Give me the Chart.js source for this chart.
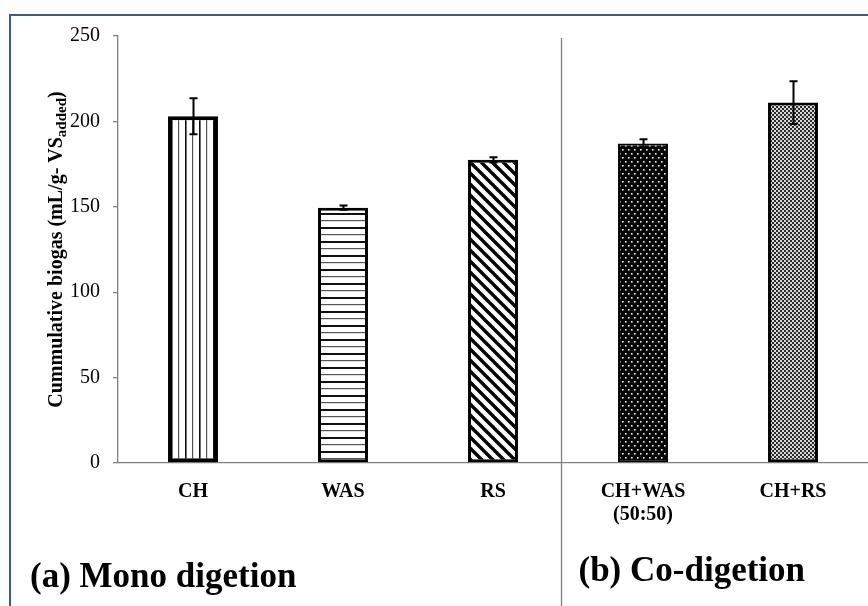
<!DOCTYPE html>
<html>
<head>
<meta charset="utf-8">
<script src="https://cdn.jsdelivr.net/npm/chart.js@4.4.1/dist/chart.umd.min.js"></script>
<style>
  html, body { margin: 0; padding: 0; background: #ffffff; }
  #wrap { width: 868px; height: 606px; position: relative; overflow: hidden; }
</style>
</head>
<body>
<div id="wrap"><canvas id="c" width="868" height="606"></canvas></div>
<script>
// Substrates and their cumulative biogas yield (mL/g-VS added), with standard deviations
const categories = ['CH', 'WAS', 'RS', ['CH+WAS', '(50:50)'], 'CH+RS'];
const biogas = [203, 149.5, 177.5, 187, 211];
const errors = [10.5, 1.2, 1.5, 2.5, 12.5];
const yMin = 0, yMax = 250, yStep = 50;
const groupLabels = ['(a) Mono digetion', '(b) Co-digetion'];

const SERIF = '"Liberation Serif", "Times New Roman", serif';

// Fill patterns for the bars
function tile(w, h, draw) {
  const cv = document.createElement('canvas');
  cv.width = w; cv.height = h;
  const g = cv.getContext('2d');
  draw(g, w, h);
  return document.getElementById('c').getContext('2d').createPattern(cv, 'repeat');
}
const vertical = tile(14, 4, (g) => {
  g.fillStyle = '#fff'; g.fillRect(0, 0, 14, 4);
  g.fillStyle = '#111'; g.fillRect(3, 0, 1.6, 4);
  g.fillStyle = '#555'; g.fillRect(10, 0, 1.2, 4);
});
const horizontal = tile(4, 14, (g) => {
  g.fillStyle = '#fff'; g.fillRect(0, 0, 4, 14);
  g.fillStyle = '#111'; g.fillRect(0, 3, 4, 2);
  g.fillStyle = '#555'; g.fillRect(0, 10, 4, 1.2);
});
const diagonal = tile(11, 11, (g) => {
  g.fillStyle = '#fff'; g.fillRect(0, 0, 11, 11);
  g.strokeStyle = '#000'; g.lineWidth = 3.4;
  for (const k of [-11, 0, 11]) {
    g.beginPath(); g.moveTo(k - 1, -1); g.lineTo(k + 12, 12); g.stroke();
  }
});
const dotted = tile(6, 8, (g) => {
  g.fillStyle = '#050505'; g.fillRect(0, 0, 6, 8);
  g.fillStyle = '#f0f0f0';
  g.fillRect(1, 1, 1.6, 1.6);
  g.fillRect(4, 5, 1.6, 1.6);
});
const checker = tile(4, 4, (g) => {
  g.fillStyle = '#2a2a2a'; g.fillRect(0, 0, 4, 4);
  g.fillStyle = '#d8d8d8';
  g.fillRect(0, 0, 2, 2);
  g.fillRect(2, 2, 2, 2);
});

// Blue frame around the figure
const framePlugin = {
  id: 'frame',
  beforeDraw(chart) {
    const ctx = chart.ctx;
    ctx.save();
    ctx.strokeStyle = '#355d8e';
    ctx.lineWidth = 2;
    ctx.strokeRect(10, 15, 920, 700);
    ctx.restore();
  }
};

// Error bars, divider and group captions
const decorPlugin = {
  id: 'decor',
  afterDatasetsDraw(chart) {
    const ctx = chart.ctx;
    const y = chart.scales.y, x = chart.scales.x;
    const meta = chart.getDatasetMeta(0);
    ctx.save();
    ctx.strokeStyle = '#000';
    ctx.lineWidth = 2;
    meta.data.forEach((bar, i) => {
      const top = y.getPixelForValue(biogas[i] + errors[i]);
      const bot = y.getPixelForValue(biogas[i] - errors[i]);
      const cx = Math.round(bar.x) + 0.5;
      ctx.beginPath();
      ctx.moveTo(cx, top); ctx.lineTo(cx, bot);
      ctx.moveTo(cx - 4, top); ctx.lineTo(cx + 4, top);
      ctx.moveTo(cx - 4, bot); ctx.lineTo(cx + 4, bot);
      ctx.stroke();
    });

    // divider between mono- and co-digestion groups
    const dx = Math.round(x.getPixelForValue(2.45)) + 0.5;
    ctx.strokeStyle = '#808080';
    ctx.lineWidth = 1.3;
    ctx.beginPath();
    ctx.moveTo(dx, chart.chartArea.top + 2);
    ctx.lineTo(dx, chart.height);
    ctx.stroke();

    // group captions
    ctx.fillStyle = '#000';
    ctx.textBaseline = 'alphabetic';
    ctx.textAlign = 'left';
    ctx.font = 'bold 35px ' + SERIF;
    ctx.fillText(groupLabels[0], 30, 587);
    ctx.fillText(groupLabels[1], dx + 17, 581);

    // rotated y-axis title with subscript
    const main = 'Cummulative biogas (mL/g- VS';
    const sub = 'added';
    const tail = ')';
    const fMain = 'bold 20px ' + SERIF, fSub = 'bold 15px ' + SERIF;
    ctx.font = fMain; const wMain = ctx.measureText(main).width; const wTail = ctx.measureText(tail).width;
    ctx.font = fSub; const wSub = ctx.measureText(sub).width;
    const total = wMain + wSub + wTail;
    const cy = (chart.chartArea.top + chart.chartArea.bottom) / 2;
    ctx.translate(62, cy);
    ctx.rotate(-Math.PI / 2);
    let px = -total / 2;
    ctx.font = fMain; ctx.fillText(main, px, 0); px += wMain;
    ctx.font = fSub; ctx.fillText(sub, px, 4); px += wSub;
    ctx.font = fMain; ctx.fillText(tail, px, 0);
    ctx.restore();
  }
};

new Chart(document.getElementById('c'), {
  type: 'bar',
  data: {
    labels: categories,
    datasets: [{
      data: biogas,
      backgroundColor: [vertical, horizontal, diagonal, dotted, checker],
      borderColor: '#000',
      borderWidth: [4, 3, 3, 2, 3],
      borderSkipped: false,
      categoryPercentage: 1,
      barPercentage: 0.333
    }]
  },
  options: {
    responsive: false,
    animation: false,
    events: [],
    layout: { padding: { top: 36, right: 0, left: 0, bottom: 0 } },
    plugins: { legend: { display: false }, tooltip: { enabled: false } },
    scales: {
      x: {
        grid: { display: false, drawTicks: false },
        border: { color: '#808080', width: 1.3 },
        ticks: {
          color: '#000',
          padding: 17,
          maxRotation: 0,
          autoSkip: false,
          font: { family: SERIF, size: 20, weight: 'bold', lineHeight: 1.15 }
        },
        afterFit(s) { s.height = 143; }
      },
      y: {
        min: yMin, max: yMax,
        grid: { drawOnChartArea: false, drawTicks: true, tickLength: 5, color: '#808080', lineWidth: 1.3 },
        border: { color: '#808080', width: 1.3 },
        ticks: {
          stepSize: yStep,
          color: '#000',
          padding: 13,
          font: { family: SERIF, size: 20 }
        },
        afterFit(s) { s.width = 118; }
      }
    }
  },
  plugins: [framePlugin, decorPlugin]
});
</script>
</body>
</html>
